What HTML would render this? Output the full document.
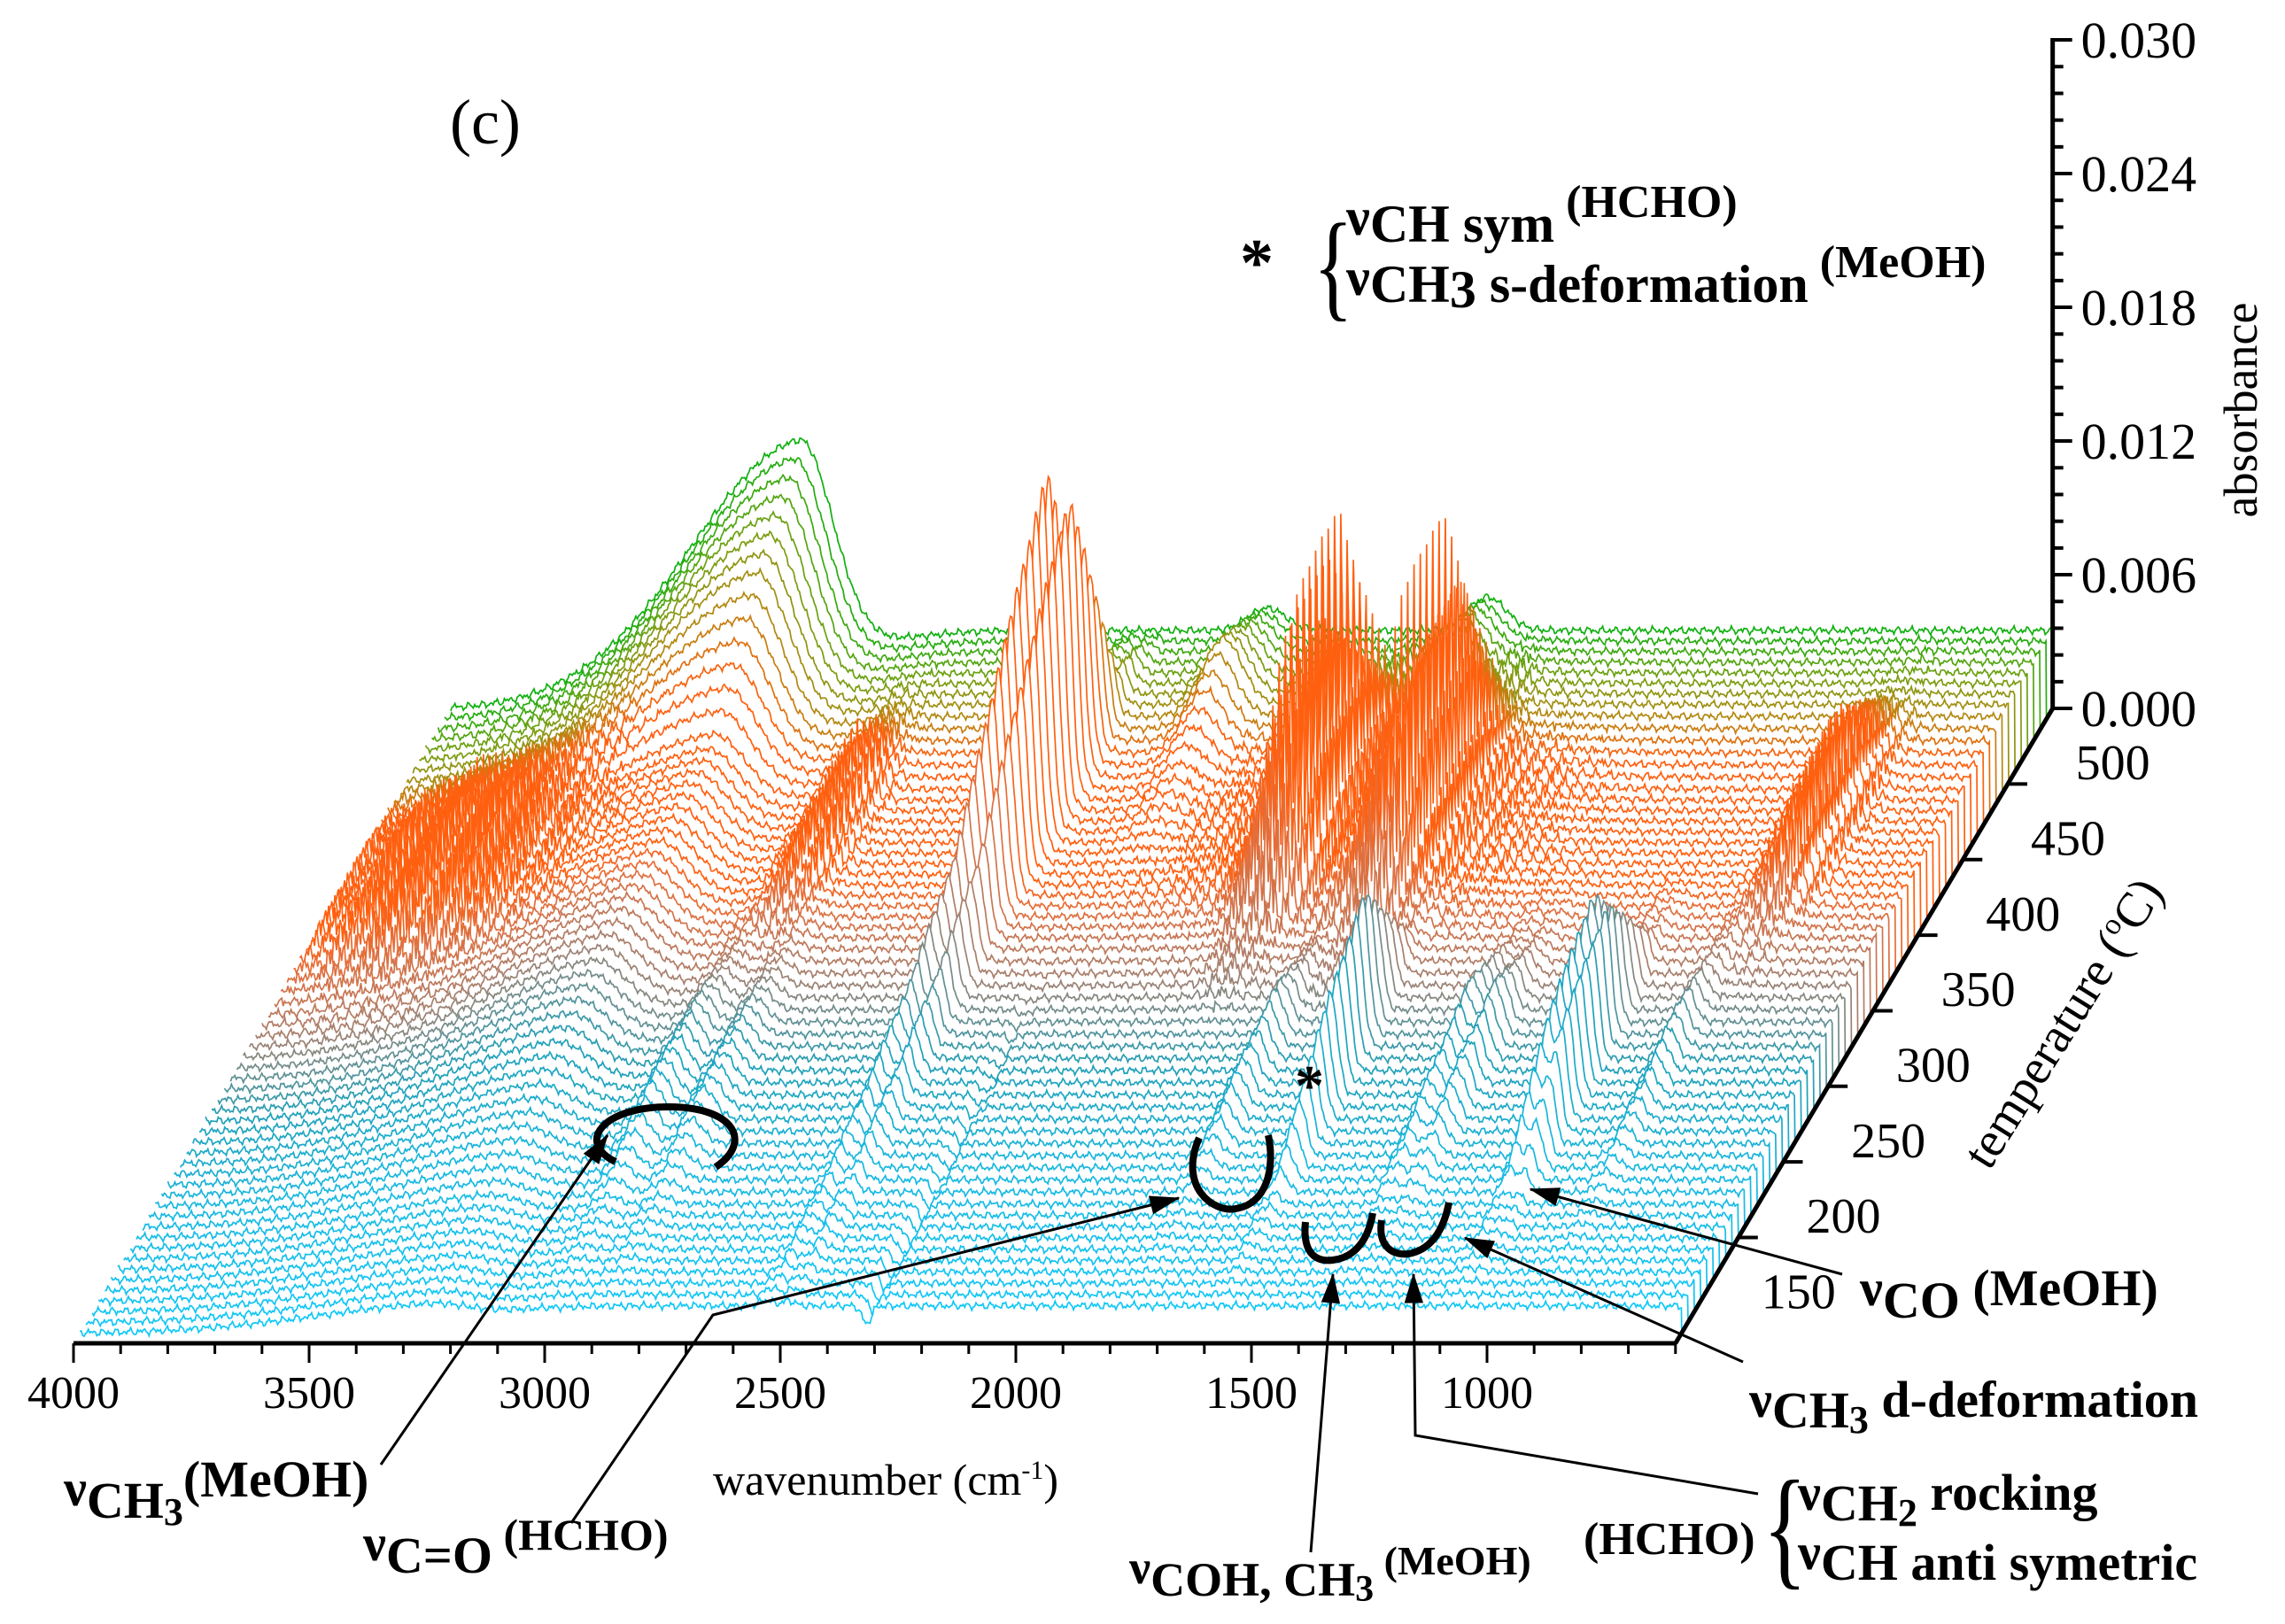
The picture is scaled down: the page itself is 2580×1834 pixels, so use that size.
<!DOCTYPE html>
<html><head><meta charset="utf-8">
<style>
html,body{margin:0;padding:0;background:#fff;}
svg{display:block;}
text{font-family:"Liberation Serif",serif;}
.b{font-weight:bold;}
</style></head>
<body>
<svg id="chart" width="2580" height="1834" viewBox="0 0 2580 1834" xmlns="http://www.w3.org/2000/svg">
<g id="traces"></g>
<g id="axes"></g>
<g id="labels">
  <text x="508" y="162" font-size="72">(c)</text>
  <text class="b" x="1400" y="322" font-size="76">*</text>
  <text x="1482" y="345" font-size="135" transform="scale(0.7,1) translate(636,0)">{</text>
  <text class="b" x="1520" y="265" font-size="60">ν<tspan dy="8">CH sym</tspan><tspan dy="-28" font-size="52"> (HCHO)</tspan></text>
  <text class="b" x="1520" y="333" font-size="60">ν<tspan dy="8">CH<tspan dy="6">3</tspan><tspan dy="-6"> s-deformation</tspan></tspan><tspan dy="-28" font-size="52"> (MeOH)</tspan></text>

  <text x="1000" y="1688" font-size="50" text-anchor="middle">wavenumber (cm<tspan dy="-18" font-size="30">-1</tspan><tspan dy="18">)</tspan></text>
  <text font-size="54" text-anchor="middle" transform="translate(2548,463) rotate(-90)">absorbance</text>
  <text font-size="56" text-anchor="middle" transform="translate(2345,1165) rotate(-58)">temperature (<tspan dy="-20" font-size="34">o</tspan><tspan dy="20">C)</tspan></text>

  <text class="b" x="72" y="1700" font-size="58">ν<tspan dy="14">CH</tspan><tspan dy="8" font-size="44">3</tspan><tspan dy="-32">(MeOH)</tspan></text>
  <text class="b" x="410" y="1762" font-size="58">ν<tspan dy="14">C=O</tspan><tspan dy="-26" font-size="50"> (HCHO)</tspan></text>
  <text class="b" x="1275" y="1788" font-size="54">ν<tspan dy="14">COH, CH</tspan><tspan dy="6" font-size="42">3</tspan><tspan dy="-30" font-size="46"> (MeOH)</tspan></text>
  <text class="b" x="1788" y="1755" font-size="52">(HCHO)</text>
  <text x="1990" y="1775" font-size="150" transform="scale(0.7,1) translate(853,0)">{</text>
  <text class="b" x="2030" y="1705" font-size="58">ν<tspan dy="12">CH</tspan><tspan dy="6" font-size="44">2</tspan><tspan dy="-18"> rocking</tspan></text>
  <text class="b" x="2030" y="1772" font-size="58">ν<tspan dy="12">CH anti symetric</tspan></text>
  <text class="b" x="1975" y="1600" font-size="58">ν<tspan dy="12">CH</tspan><tspan dy="6" font-size="44">3</tspan><tspan dy="-18"> d-deformation</tspan></text>
  <text class="b" x="2100" y="1474" font-size="58">ν<tspan dy="14">CO</tspan><tspan dy="-14"> (MeOH)</tspan></text>
  <text class="b" x="1462" y="1248" font-size="66">*</text>
</g>
<g id="arrows" stroke="#000" fill="none"></g>
</svg>
<script>
// ---------- data ----------
const temps      = [85, 150, 200, 250, 300, 350, 400, 450, 500];
const humpAmp    = [0.0005,0.0009,0.0016,0.0024,0.0028,0.003,0.0033,0.007,0.0097];
const ch3Amp     = [0,0.0005,0.0018,0.0016,0.0004,0,0,0,0];
const co2Amp     = [0.0002,0.0006,0.0012,0.002,0.0035,0.008,0.012,0.0015,0];
const dipAmp     = [-0.0008,-0.0007,-0.0005,-0.0003,0,0,0,0,0];
const waterAmp   = [0,0,0,0,0.0006,0.0055,0.0058,0.0006,0];
const p1770Amp   = [0,0.0002,0.0015,0.002,0.0003,0,0,0,0];
const p1585Amp   = [0,0.0005,0.004,0.0062,0.0005,0,0,0,0];
const p1352Amp   = [0,0.0003,0.0018,0.0026,0.0004,0,0,0,0];
const p1303Amp   = [0,0.0003,0.0016,0.0023,0.0004,0,0,0,0];
const p1088Amp   = [0,0.0005,0.0045,0.006,0.0006,0,0,0,0];
const p908Amp    = [0,0.0002,0.001,0.0016,0.0005,0,0,0,0];
const p1800gAmp  = [0,0,0,0,0,0,0.001,0.003,0.0015];
const p2267gAmp  = [0,0,0,0,0,0,0.001,0.003,0.001];
const baseRight  = [0.0012,0.0015,0.002,0.0025,0.003,0.003,0.003,0.0035,0.0035];
const waterCenters = [3750, 1927, 1692, 1800, 848, 2950];
const waterSigmas  = [150, 40, 40, 200, 40, 40];
const waterRel     = [0.7, 2.0, 1.9, 0.45, 0.9, 0.6];
const xTicks = [4000,3500,3000,2500,2000,1500,1000];
const tTicks = [150,200,250,300,350,400,450,500];
const aTicks = ["0.000","0.006","0.012","0.018","0.024","0.030"];
const colorT = [85,170,230,280,320,340,420,445,470,500];
const colorC = ["#10c8f8","#18b8e0","#20a0b8","#a48070","#e07040","#ff6010","#ff6010","#b08a10","#70a010","#10b010"];

// ---------- axis functions ----------
const X0=83, Y0=1517, WPX=0.532, TDX=1.014, TDY=-1.707, AY=25167, T0=80;
function xPos(w,T){return X0+(4000-w)*WPX+TDX*(T-T0);}
function yPos(a,T){return Y0+TDY*(T-T0)-a*AY;}
function interp(arr,T){
  if(T<=temps[0])return arr[0];
  for(let i=1;i<temps.length;i++){ if(T<=temps[i]){const f=(T-temps[i-1])/(temps[i]-temps[i-1]);return arr[i-1]+(arr[i]-arr[i-1])*f;} }
  return arr[arr.length-1];
}
function hexToRgb(h){return [parseInt(h.substr(1,2),16),parseInt(h.substr(3,2),16),parseInt(h.substr(5,2),16)];}
function colorAt(T){
  for(let i=1;i<colorT.length;i++){ if(T<=colorT[i]){const f=(T-colorT[i-1])/(colorT[i]-colorT[i-1]);const a=hexToRgb(colorC[i-1]),b=hexToRgb(colorC[i]);return "rgb("+a.map((v,k)=>Math.round(v+(b[k]-v)*f)).join(",")+")";} }
  return colorC[colorC.length-1];
}
const g=(w,c,s)=>Math.exp(-0.5*((w-c)/s)*((w-c)/s));
function spectrum(w,T){
  let a=0;
  const s=Math.min(1,(4000-w)/1200); a+=interp(baseRight,T)*s*s*(3-2*s);
  const hs = w>3260?230:70; a+=interp(humpAmp,T)*g(w,3260,hs);
  a+=interp(ch3Amp,T)*(g(w,3000,25)+0.8*g(w,2890,25));
  a+=interp(co2Amp,T)*(g(w,2545,12)+0.9*g(w,2495,12)+0.3*g(w,2520,30));
  a+=interp(dipAmp,T)*g(w,2330,10);
  const comb=Math.pow(Math.abs(Math.sin(w*0.37)*Math.sin(w*0.113+1)),1.5);
  const wa=interp(waterAmp,T);
  if(wa>0){ let e=0; for(let i=0;i<waterCenters.length;i++) e+=waterRel[i]*g(w,waterCenters[i],waterSigmas[i]); a+=wa*e*(0.15+0.85*comb); }
  a+=interp(p1770Amp,T)*g(w,1770,18);
  a+=interp(p1585Amp,T)*g(w,1585,14);
  a+=interp(p1352Amp,T)*g(w,1352,16);
  a+=interp(p1303Amp,T)*g(w,1303,16);
  a+=interp(p1088Amp,T)*(g(w,1100,12)+0.9*g(w,1068,12));
  a+=interp(p908Amp,T)*g(w,908,16);
  a+=interp(p1800gAmp,T)*g(w,1800,40);
  a+=interp(p2267gAmp,T)*g(w,2267,40);
  a+=0.00008*(Math.sin(w*0.41+T*0.31)+Math.sin(w*0.23+T*0.77)+0.7*Math.sin(w*0.9+T));
  return a;
}
// ---------- draw traces (back to front) ----------
const NS="http://www.w3.org/2000/svg";
const traces=document.getElementById('traces');
const traceTemps=[]; for(let i=0;i<60;i++) traceTemps.push(500-i*7);
traceTemps.forEach(T=>{
  let pts=[];
  for(let w=4000;w>=600;w-=3){ pts.push(xPos(w,T).toFixed(1)+","+yPos(spectrum(w,T),T).toFixed(1)); }
  const xr=xPos(600,T), yb=yPos(0,T), xl=xPos(4000,T);
  const fill=document.createElementNS(NS,'polygon');
  
  
  fill.setAttribute('points',pts.join(" ")+" "+xr+","+yb+" "+xl+","+yb);
  fill.setAttribute('fill','#fff');
  traces.appendChild(fill);
  const pl=document.createElementNS(NS,'polyline');
  
  
  pl.setAttribute('points',pts.join(" ")+" "+xr.toFixed(1)+","+yb.toFixed(1));
  pl.setAttribute('fill','none');
  pl.setAttribute('stroke',colorAt(T));
  pl.setAttribute('stroke-width','1.7');
  traces.appendChild(pl);
});
// ---------- axes ----------
const axes=document.getElementById('axes');
function line(x1,y1,x2,y2,w,name){const l=document.createElementNS(NS,'line');l.setAttribute('x1',x1);l.setAttribute('y1',y1);l.setAttribute('x2',x2);l.setAttribute('y2',y2);l.setAttribute('stroke','#000');l.setAttribute('stroke-width',w);
  
  
  axes.appendChild(l);return l;}
function txt(x,y,s,size,anchor,name){const t=document.createElementNS(NS,'text');t.setAttribute('x',x);t.setAttribute('y',y);t.setAttribute('font-size',size);t.setAttribute('text-anchor',anchor);t.textContent=s;
  
  
  axes.appendChild(t);return t;}
line(X0,Y0,xPos(600,T0),Y0,5,'x-axis-line');
for(let w=4000;w>=600;w-=100){ const major=(w%500===0); line(xPos(w,T0),Y0,xPos(w,T0),Y0+(major?22:12),3,'x-tick'); }
xTicks.forEach(w=>txt(xPos(w,T0),1590,String(w),52,'middle','x-tick-label'));
const cx=xPos(600,T0);
line(cx,Y0,xPos(600,500),yPos(0,500),5,'temperature-axis-line');
tTicks.forEach(T=>{ const x=xPos(600,T), y=yPos(0,T); line(x,y,x+22,y,4,'temperature-tick'); txt(x+68,y+80,String(T),56,'middle','temperature-tick-label'); });
const ax=xPos(600,500), ay0=yPos(0,500), ay1=yPos(0.030,500);
line(ax,ay0,ax,ay1-2,5,'y-axis-line');
for(let i=0;i<=25;i++){ const a=i*0.0012; const y=yPos(a,500); const major=(i%5===0); line(ax,y,ax+(major?22:12),y,4,'y-tick'); }
aTicks.forEach((s,i)=>txt(ax+32,yPos(i*0.006,500)+20,s,58,'start','y-tick-label'));
// ---------- arrows / marks ----------
const arrows=document.getElementById('arrows');
function path(d,w,name){const p=document.createElementNS(NS,'path');p.setAttribute('d',d);p.setAttribute('stroke-width',w);p.setAttribute('fill','none');p.setAttribute('stroke','#000');
  
  
  arrows.appendChild(p);}
function head(x1,y1,x2,y2,name){const ang=Math.atan2(y2-y1,x2-x1),L=32,W=10;const bx=x2-L*Math.cos(ang),by=y2-L*Math.sin(ang);
  const p=document.createElementNS(NS,'polygon');
  p.setAttribute('points',x2+","+y2+" "+(bx-W*Math.sin(ang))+","+(by+W*Math.cos(ang))+" "+(bx+W*Math.sin(ang))+","+(by-W*Math.cos(ang)));
  p.setAttribute('fill','#000');
  
  
  arrows.appendChild(p);}
path("M430 1654 L686 1282",3,'arrow-ch3-meoh'); head(430,1654,686,1282,'arrowhead-ch3-meoh');
path("M645 1720 L805 1485 L1331 1353",3,'arrow-co-hcho'); head(805,1485,1331,1353,'arrowhead-co-hcho');
path("M1480 1753 L1505 1439",3,'arrow-coh'); head(1480,1753,1505,1439,'arrowhead-coh');
path("M1985 1687 L1598 1621 L1596 1439",3,'arrow-ch2-rocking'); head(1598,1621,1596,1439,'arrowhead-ch2-rocking');
path("M1968 1538 L1654 1398",3,'arrow-ch3-ddef'); head(1968,1538,1654,1398,'arrowhead-ch3-ddef');
path("M2080 1439 L1728 1343",3,'arrow-co-meoh'); head(2080,1439,1728,1343,'arrowhead-co-meoh');
path("M695 1312 C650 1290 680 1250 755 1250 C830 1250 850 1290 808 1318",8,'mark-ch3-region');
path("M1354 1285 C1330 1340 1370 1370 1395 1365 C1430 1360 1440 1320 1432 1282",8,'mark-co-region');
path("M1474 1380 C1470 1420 1490 1425 1505 1423 C1530 1420 1545 1400 1550 1370",8,'mark-coh-region');
path("M1560 1378 C1555 1410 1575 1418 1590 1416 C1615 1412 1630 1390 1636 1358",8,'mark-ch2-region');
</script>
</body></html>
